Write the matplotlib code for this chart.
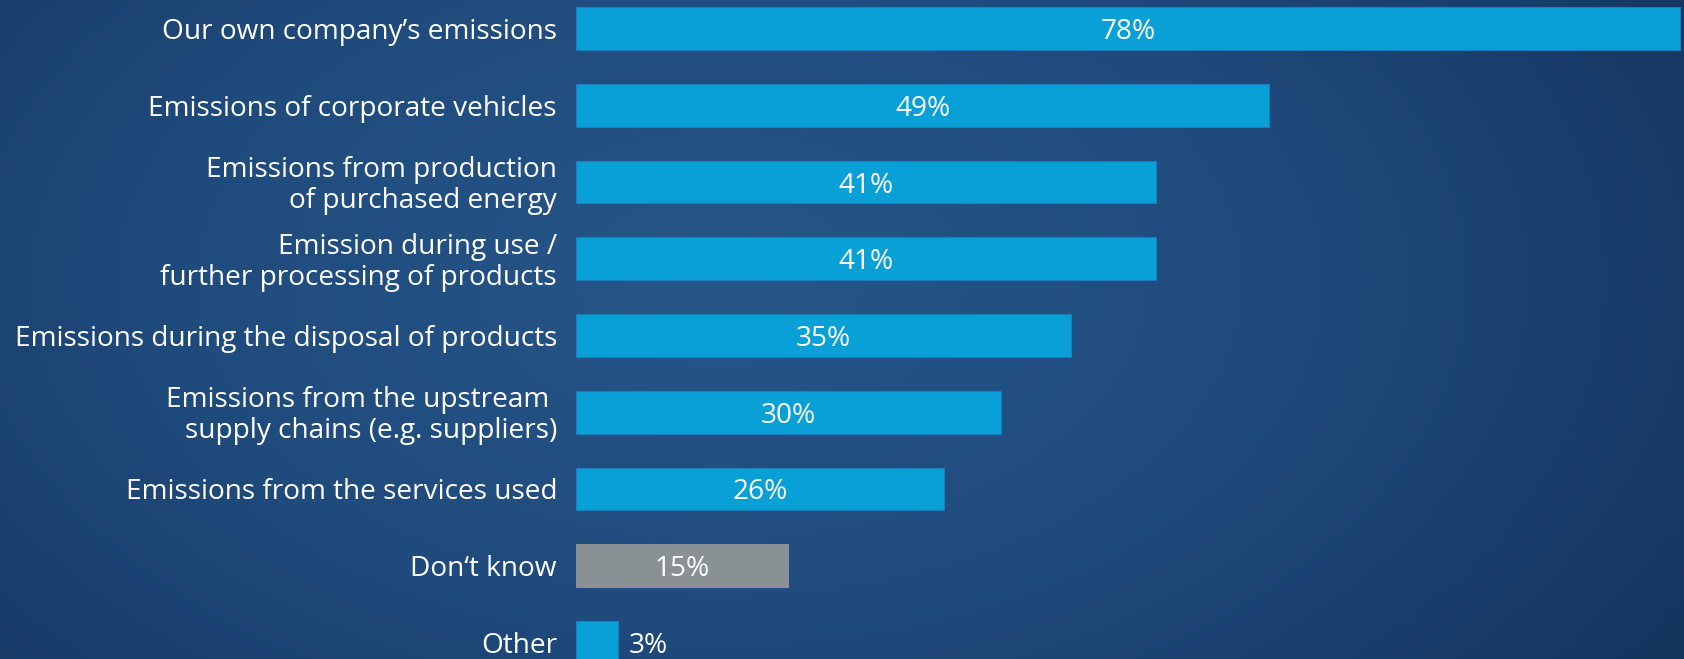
"""
Horizontal bar chart: which emissions companies account for (share of respondents).
"""
import matplotlib.pyplot as plt
import numpy as np
from matplotlib.colors import LinearSegmentedColormap
from matplotlib.transforms import ScaledTranslation

# ── Data ──────────────────────────────────────────────────────────────────────
categories = [
    "Our own company\u2019s emissions",
    "Emissions of corporate vehicles",
    "Emissions from production\nof purchased energy",
    "Emission during use /\nfurther processing of products",
    "Emissions during the disposal of products",
    "Emissions from the upstream \nsupply chains (e.g. suppliers)",
    "Emissions from the services used",
    "Don\u2018t know",
    "Other",
]
values = [78, 49, 41, 41, 35, 30, 26, 15, 3]
value_labels = ["78%", "49%", "41%", "41%", "35%", "30%", "26%", "15%", "3%"]

# ── Style ─────────────────────────────────────────────────────────────────────
plt.rcParams.update({
    "font.family": ["Open Sans", "DejaVu Sans"],
    "font.size": 20.15,
})
BLUE = "#08a0d7"
BLUE_EDGE = "#1a7fc0"
GREY = "#8a9194"
BAR_COLORS = [BLUE] * 7 + [GREY, BLUE]
EDGE_COLORS = [BLUE_EDGE] * 7 + [GREY, BLUE_EDGE]

W, H = 1684, 659
fig = plt.figure(figsize=(W / 100, H / 100), dpi=100)

# ── Background: soft radial gradient ──────────────────────────────────────────
bg = fig.add_axes([0, 0, 1, 1], zorder=-1)
gx, gy = np.meshgrid(np.linspace(0, W, 400), np.linspace(0, H, 160))
r = np.sqrt(((gx - 720) / 1150) ** 2 + ((gy - 280) / 700) ** 2)
r = np.clip(r, 0, 1)
cmap = LinearSegmentedColormap.from_list("bg", ["#275689", "#1f4a7c", "#15345e"])
bg.imshow(r, cmap=cmap, aspect="auto", extent=[0, W, H, 0], vmin=0, vmax=1,
          interpolation="bilinear")
bg.set_axis_off()

# ── Bars ──────────────────────────────────────────────────────────────────────
x0 = 576 / W
ax = fig.add_axes([x0, 0, 1 - x0, 1])
ax.patch.set_alpha(0)
y = np.arange(len(categories))
ax.barh(y, values, height=0.557, color=BAR_COLORS, edgecolor=EDGE_COLORS, linewidth=0.8)

# text sits a few pixels below the bar centre in the original
down = ScaledTranslation(0, -3.5 / 100, fig.dpi_scale_trans)

for yi, v, lab in zip(y, values, value_labels):
    if v >= 10:
        ax.text(v / 2, yi, lab, ha="center", va="center", color="white",
                transform=ax.transData + down)
    else:
        ax.text(v + 0.7, yi, lab, ha="left", va="center", color="white",
                transform=ax.transData + down)

# category labels, right-aligned just left of the bars
lab_tr = ax.get_yaxis_transform() + ScaledTranslation(-19 / 100, -3.5 / 100, fig.dpi_scale_trans)
for yi, cat in zip(y, categories):
    ax.text(0, yi, cat, ha="right", va="center", ma="right", color="white",
            linespacing=1.12, transform=lab_tr)

ax.set_xlim(0, 78.3)
ax.set_ylim(8.218, -0.374)
ax.set_xticks([])
ax.set_yticks([])
for s in ax.spines.values():
    s.set_visible(False)

fig.savefig("out.png", dpi=100)
